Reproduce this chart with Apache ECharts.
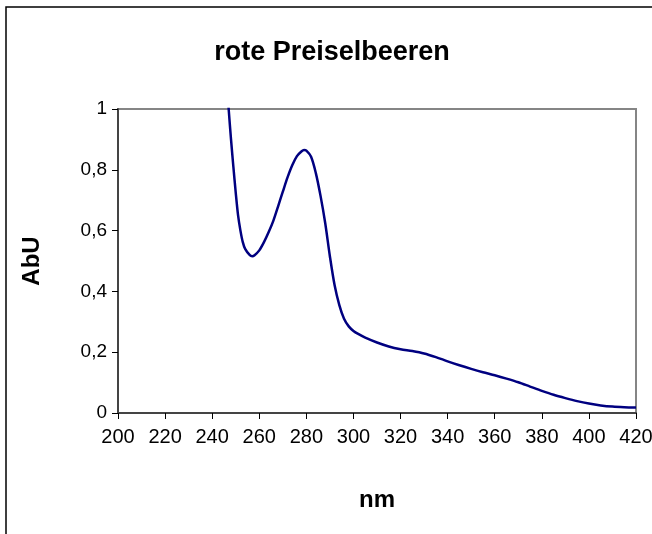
<!DOCTYPE html>
<html>
<head>
<meta charset="utf-8">
<script src="https://cdn.jsdelivr.net/npm/echarts@6/dist/echarts.min.js"></script>
<style>
html,body{margin:0;padding:0;background:#fff;}
#chart{width:652px;height:534px;}
</style>
</head>
<body>
<div id="chart"></div>
<script>
var titleText = 'rote Preiselbeeren';
var xName = 'nm';
var yName = 'AbU';
var wavelengths = [244,246,247,248,249,250,251,252,253,254,256,257,258,260,262,264,266,268,270,272,274,276,278,279,280,282,284,286,288,290,292,294,296,298,300,302,305,310,315,320,325,330,335,340,345,350,355,360,365,370,375,380,385,390,395,400,405,410,415,420];
var absorbance = [1.40,1.12,1.00,0.90,0.81,0.725,0.65,0.60,0.562,0.54,0.519,0.516,0.519,0.535,0.562,0.595,0.633,0.680,0.728,0.775,0.815,0.845,0.861,0.865,0.863,0.843,0.790,0.715,0.625,0.515,0.420,0.355,0.310,0.285,0.270,0.260,0.248,0.232,0.219,0.210,0.204,0.196,0.184,0.170,0.157,0.145,0.134,0.124,0.113,0.101,0.087,0.073,0.060,0.049,0.039,0.031,0.025,0.021,0.019,0.018];
var xTicks = ['200','220','240','260','280','300','320','340','360','380','400','420'];
var yTicks = ['0','0,2','0,4','0,6','0,8','1'];

var pts = wavelengths.map(function(w,i){return [w, absorbance[i]];});
var font = 'Liberation Sans, Arial, sans-serif';
var chart = echarts.init(document.getElementById('chart'), null, {renderer:'canvas'});
chart.setOption({
  animation:false,
  backgroundColor:'#fff',
  graphic:[
    {type:'rect',shape:{x:6,y:7,width:700,height:600},style:{fill:'none',stroke:'#000',lineWidth:1.5},z:-1},
    {type:'text',x:332,y:53,style:{text:titleText,textAlign:'center',textVerticalAlign:'middle',font:'bold 27px Liberation Sans, Arial, sans-serif',fill:'#000'}}
  ],
  grid:{left:118,top:109,right:16,bottom:121,containLabel:false,outerBoundsMode:'none',show:true,borderColor:'#858585',borderWidth:2,backgroundColor:'transparent'},
  xAxis:{type:'value',min:200,max:420,interval:20,
    name:xName,nameLocation:'middle',nameGap:75,
    nameTextStyle:{fontFamily:font,fontSize:24,fontWeight:'bold',color:'#000'},
    axisLine:{show:true,onZero:false,lineStyle:{color:'#444',width:2}},
    axisTick:{show:true,length:6,lineStyle:{color:'#000',width:1}},
    axisLabel:{margin:14,fontFamily:font,fontSize:20,color:'#000',hideOverlap:false,formatter:function(v){return xTicks[Math.round((v-200)/20)];}},
    splitLine:{show:false}},
  yAxis:{type:'value',min:0,max:1,interval:0.2,
    name:yName,nameLocation:'middle',nameGap:74,
    nameTextStyle:{fontFamily:font,fontSize:24,fontWeight:'bold',color:'#000'},
    axisLine:{show:true,lineStyle:{color:'#444',width:2}},
    axisTick:{show:true,length:6,lineStyle:{color:'#000',width:1}},
    axisLabel:{margin:11,fontFamily:font,fontSize:19,color:'#000',formatter:function(v){return yTicks[Math.round(v/0.2)];}},
    splitLine:{show:false}},
  series:[{type:'line',data:pts,showSymbol:false,smooth:0.3,clip:true,
    lineStyle:{color:'#000080',width:2.5}}]
});
</script>
</body>
</html>
